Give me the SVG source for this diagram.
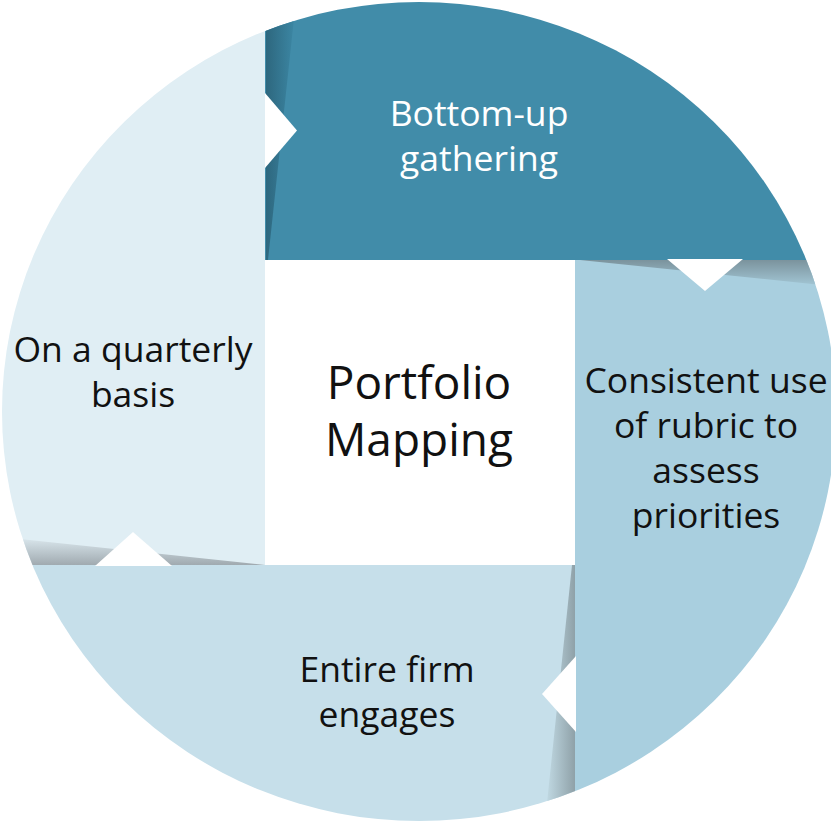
<svg xmlns="http://www.w3.org/2000/svg" width="831" height="822" viewBox="0 0 831 822">
  <defs>
    <clipPath id="disc">
      <ellipse cx="419" cy="411.5" rx="417" ry="409.5"/>
    </clipPath>
    <linearGradient id="shadeTop" gradientUnits="userSpaceOnUse" x1="265" y1="0" x2="295" y2="0">
      <stop offset="0" stop-color="#2d667d"/>
      <stop offset="1" stop-color="#3c87a4"/>
    </linearGradient>
    <linearGradient id="shadeRight" gradientUnits="userSpaceOnUse" x1="0" y1="260" x2="0" y2="288">
      <stop offset="0" stop-color="#7b939d"/>
      <stop offset="1" stop-color="#a6cbda"/>
    </linearGradient>
    <linearGradient id="shadeBottom" gradientUnits="userSpaceOnUse" x1="545" y1="0" x2="575" y2="0">
      <stop offset="0" stop-color="#c3dce6"/>
      <stop offset="1" stop-color="#8fa1a8"/>
    </linearGradient>
    <linearGradient id="shadeLeft" gradientUnits="userSpaceOnUse" x1="0" y1="537" x2="0" y2="565">
      <stop offset="0" stop-color="#dce9ef"/>
      <stop offset="1" stop-color="#a0aab0"/>
    </linearGradient>
  </defs>
  <style>
    .lbl { font-family: "Open Sans", "Noto Sans", "Liberation Sans", sans-serif; font-size: 35.5px; text-anchor: middle; fill: #111; }
    .lbl.light { fill: #ffffff; }
    .title { font-family: "Open Sans", "Noto Sans", "Liberation Sans", sans-serif; font-size: 46px; text-anchor: middle; fill: #111; }
    .notch { fill: #ffffff; }
  </style>

  <g clip-path="url(#disc)">
    <!-- left quadrant: cadence -->
    <g id="node-quarterly">
      <rect x="0" y="0" width="265" height="565" fill="#e0eef4"/>
      <polygon points="0,537 265,565 0,565" fill="url(#shadeLeft)"/>
      <line x1="265.5" y1="0" x2="265.5" y2="260" stroke="#bfd0d8" stroke-width="1"/>
    </g>
    <!-- top quadrant -->
    <g id="node-bottom-up">
      <rect x="265" y="0" width="566" height="260" fill="#418ca9"/>
      <polygon points="266,0 296,0 268,260 266,260" fill="url(#shadeTop)"/>
    </g>
    <!-- right quadrant -->
    <g id="node-rubric">
      <rect x="575" y="260" width="256" height="562" fill="#a9cfdf"/>
      <polygon points="575,260 831,260 831,286 580,260" fill="url(#shadeRight)"/>
    </g>
    <!-- bottom quadrant -->
    <g id="node-firm">
      <rect x="0" y="565" width="575" height="257" fill="#c6dfea"/>
      <polygon points="572,565 575,565 575,822 545,822" fill="url(#shadeBottom)"/>
    </g>
  </g>

  <!-- centre panel -->
  <g id="node-center">
    <rect x="266" y="260" width="309" height="305" fill="#ffffff"/>
    <text class="title" x="419" y="399">Portfolio</text>
    <text class="title" x="419" y="456">Mapping</text>
  </g>

  <!-- chevron notches showing the clockwise flow -->
  <g id="connectors">
    <polygon class="notch" points="265,93 297,130.5 265,168"/>
    <polygon class="notch" points="667,259 705,291 743,259"/>
    <polygon class="notch" points="576,656 542,694 576,732"/>
    <polygon class="notch" points="95,566 133,532 172,566"/>
  </g>

  <!-- labels -->
  <g id="labels">
    <text class="lbl light" x="479" y="126">Bottom-up</text>
    <text class="lbl light" x="479" y="171">gathering</text>
    <text class="lbl" x="706" y="393">Consistent use</text>
    <text class="lbl" x="706" y="438">of rubric to</text>
    <text class="lbl" x="706" y="483">assess</text>
    <text class="lbl" x="706" y="528">priorities</text>
    <text class="lbl" x="387" y="682">Entire firm</text>
    <text class="lbl" x="387" y="727">engages</text>
    <text class="lbl" x="133" y="362">On a quarterly</text>
    <text class="lbl" x="133" y="407">basis</text>
  </g>
</svg>
